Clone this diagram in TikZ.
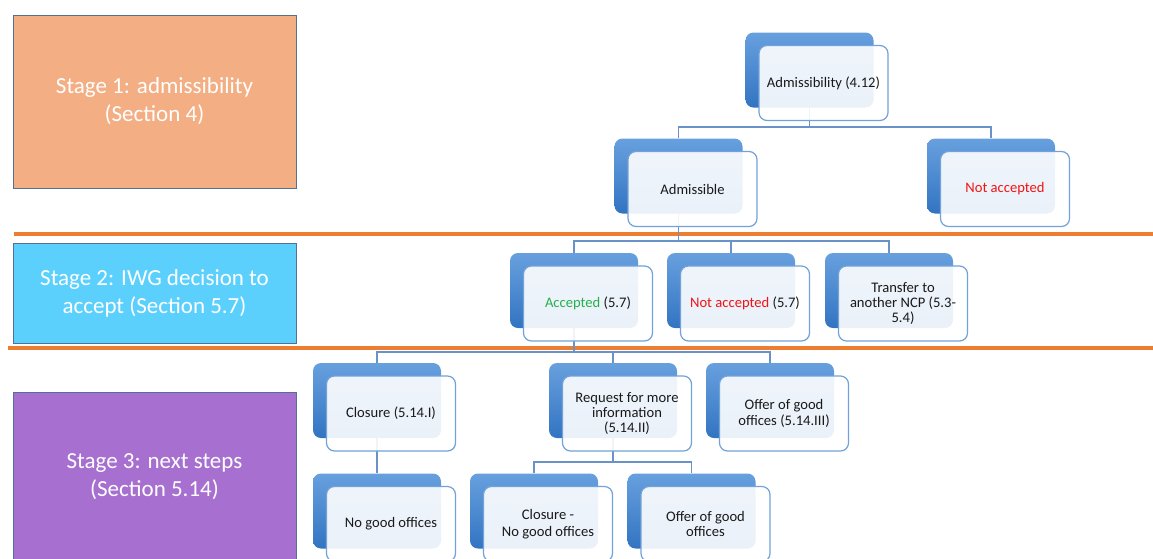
\documentclass[tikz,border=0pt]{standalone}
\usepackage{fontspec}
\setmainfont{Carlito}
\usepackage{xcolor}
\usetikzlibrary{positioning, backgrounds}

\definecolor{boxtop}{RGB}{104,160,222}
\definecolor{boxbot}{RGB}{50,116,194}
\definecolor{boxline}{RGB}{114,162,216}
\definecolor{linkcol}{RGB}{104,146,200}
\definecolor{txtcol}{RGB}{25,25,25}
\definecolor{accgreen}{RGB}{38,176,76}
\definecolor{accred}{RGB}{240,20,20}
\definecolor{divcol}{RGB}{237,125,49}
\definecolor{stageline}{RGB}{82,112,150}
\definecolor{stageone}{RGB}{243,174,131}
\definecolor{stagetwo}{RGB}{91,208,253}
\definecolor{stagethree}{RGB}{167,112,208}

\tikzset{
  backbox/.style={rounded corners=8pt, inner sep=0pt, minimum width=128pt, minimum height=75pt,
    top color=boxtop, bottom color=boxbot},
  frontbox/.style={rounded corners=8pt, inner sep=2pt, minimum width=129pt, minimum height=75pt,
    draw=boxline, line width=1.2pt, fill=white, fill opacity=0.9, text opacity=1,
    align=center, text=txtcol, font=\fontsize{14.6}{15.2}\selectfont},
  stagebox/.style={draw=stageline, line width=0.9pt, minimum width=283pt, inner sep=0pt,
    text=white, align=center, font=\fontsize{23}{28}\selectfont},
  link/.style={draw=linkcol, line width=1.3pt},
  divider/.style={draw=divcol, line width=3.5pt}
}

\begin{document}
\begin{tikzpicture}[x=1pt, y=-1pt]
  \useasboundingbox (0,0) rectangle (1153,558);

  % stage boxes on the left
  \node[stagebox, fill=stageone, minimum height=173pt] (stage1) at (154.5,101.5)
    {Stage 1: admissibility\\(Section 4)};
  \node[stagebox, fill=stagetwo, minimum height=100pt] (stage2) at (154.5,293)
    {Stage 2: IWG decision to\\accept (Section 5.7)};
  \node[stagebox, fill=stagethree, minimum height=170pt] (stage3) at (154.5,477)
    {Stage 3: next steps\\(Section 5.14)};

  % tree boxes: back box + front box
  \foreach \nm/\cx/\cy/\txt in {
      adm/809.5/70/{Admissibility (4.12)},
      admissible/678.5/176/{Admissible},
      notacc/991/176/{\textcolor{accred}{Not accepted}},
      accepted/574/290.5/{\textcolor{accgreen}{Accepted} (5.7)},
      rejected/731/290.5/{\textcolor{accred}{Not accepted} (5.7)},
      transfer/889/290.5/{Transfer to\\another NCP (5.3-\\5.4)},
      closure/377/400.5/{Closure (5.14.I)},
      request/613/400.5/{Request for more\\information\\(5.14.II)},
      offer/770/400.5/{Offer of good\\offices (5.14.III)},
      nogood/377/511/{No good offices},
      closenogood/534/511/{Closure -\\[2pt]No good offices},
      goodoffices/691.5/511/{Offer of good\\offices}} {
    \node[backbox] (\nm-b) at (\cx,\cy) {};
    \node[frontbox] (\nm) at (\cx+14,\cy+13) {\txt};
  }

  \coordinate (bus1) at (0,127);
  \coordinate (bus2) at (0,241);
  \coordinate (bus3) at (0,352);
  \coordinate (bus4) at (0,462);

  \begin{scope}[on background layer]
    % dividers between the stages
    \draw[divider] (14,234) -- (1153,234);
    \draw[divider] (8,348) -- (1153,348);

    % connectors
    \foreach \c in {admissible,notacc}
      \draw[link] (adm-b.south) |- (bus1 -| \c-b.north) -- (\c-b.north);
    \foreach \c in {accepted,rejected,transfer}
      \draw[link] (admissible-b.south) |- (bus2 -| \c-b.north) -- (\c-b.north);
    \foreach \c in {closure,request,offer}
      \draw[link] (accepted-b.south) |- (bus3 -| \c-b.north) -- (\c-b.north);
    \draw[link] (closure-b.south) -- (nogood-b.north);
    \foreach \c in {closenogood,goodoffices}
      \draw[link] (request-b.south) |- (bus4 -| \c-b.north) -- (\c-b.north);
  \end{scope}
\end{tikzpicture}
\end{document}
